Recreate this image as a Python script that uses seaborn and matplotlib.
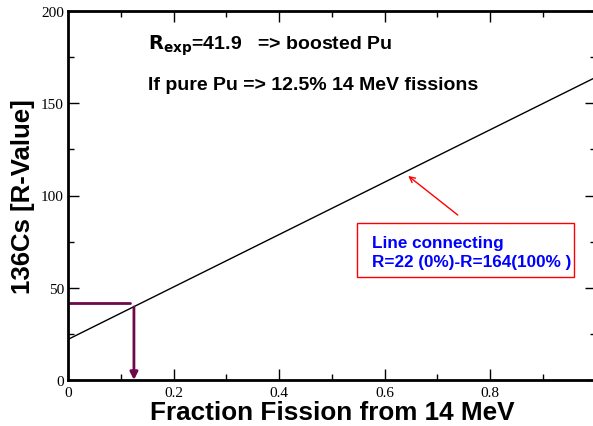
import matplotlib
matplotlib.use('Agg')
import matplotlib.pyplot as plt
import seaborn as sns
import pandas as pd
from matplotlib.patches import Rectangle
from matplotlib.ticker import MultipleLocator

# line connecting the two end members
frac = [0.0, 1.0]
rvalue = [22, 164]

r_exp = 41.9
frac_exp = 0.125

data = pd.DataFrame({'frac': frac, 'r': rvalue})

sns.set_style('ticks', {'axes.edgecolor': 'black', 'xtick.color': 'black',
                        'ytick.color': 'black', 'text.color': 'black',
                        'axes.labelcolor': 'black'})
plt.rcParams['font.family'] = ['Liberation Sans', 'DejaVu Sans']

fig = plt.figure(figsize=(5.93, 4.27), dpi=100)
W, H = 593, 427
ax = fig.add_axes([68 / W, (H - 381) / H, 527.5 / W, 369 / H])

sns.lineplot(data=data, x='frac', y='r', ax=ax, color='black', linewidth=1)

maroon = '#6e0a4c'
ax.plot([0, 0.1175], [r_exp, r_exp], color=maroon, linewidth=2)
ax.annotate('', xy=(frac_exp, 0), xytext=(frac_exp, 39.6),
            arrowprops=dict(arrowstyle='-|>,head_length=0.5,head_width=0.25',
                            color=maroon, lw=2, mutation_scale=9,
                            shrinkA=0, shrinkB=0))

ax.set_xlim(0, 1)
ax.set_ylim(0, 200)
ax.xaxis.set_major_locator(MultipleLocator(0.2))
ax.xaxis.set_minor_locator(MultipleLocator(0.1))
ax.yaxis.set_major_locator(MultipleLocator(50))
ax.yaxis.set_minor_locator(MultipleLocator(25))
ax.tick_params(which='both', direction='in', top=True, right=True, width=1)
ax.tick_params(which='major', length=8)
ax.tick_params(which='minor', length=4)
for sp in ax.spines.values():
    sp.set_linewidth(2)

ax.set_xticks([0, 0.2, 0.4, 0.6, 0.8])
ax.set_xticklabels(['0', '0.2', '0.4', '0.6', '0.8'])
ax.set_yticks([0, 50, 100, 150, 200])
ax.set_yticklabels(['0', '50', '100', '150', '200'])
for lab in ax.get_xticklabels() + ax.get_yticklabels():
    lab.set_fontfamily('Liberation Serif')
    lab.set_fontsize(11)
ax.tick_params(axis='x', pad=4)
ax.tick_params(axis='y', pad=3)

ax.set_xlabel('Fraction Fission from 14 MeV', fontsize=18.8, fontweight='bold', labelpad=1)
ax.set_ylabel('136Cs [R-Value]', fontsize=18.5, fontweight='bold', labelpad=4)

ax.text(0.151, 181.5, r'$\mathbf{R_{exp}}$=41.9   => boosted Pu', fontsize=14,
        fontweight='bold', va='center')
ax.text(0.151, 160, 'If pure Pu => 12.5% 14 MeV fissions', fontsize=14,
        fontweight='bold', va='center')

ax.add_patch(Rectangle((0.548, 55.8), 0.411, 29.3, fill=False, edgecolor='red', linewidth=1))
ax.text(0.577, 74.5, 'Line connecting', color='blue', fontsize=12.3, fontweight='bold', va='center')
ax.text(0.577, 64.2, 'R=22 (0%)-R=164(100% )', color='blue', fontsize=12.3, fontweight='bold', va='center')
ax.annotate('', xy=(0.645, 110.6), xytext=(0.739, 89.4),
            arrowprops=dict(arrowstyle='->', color='red', lw=1, shrinkA=0, shrinkB=0))

fig.savefig('out.png', dpi=100)
